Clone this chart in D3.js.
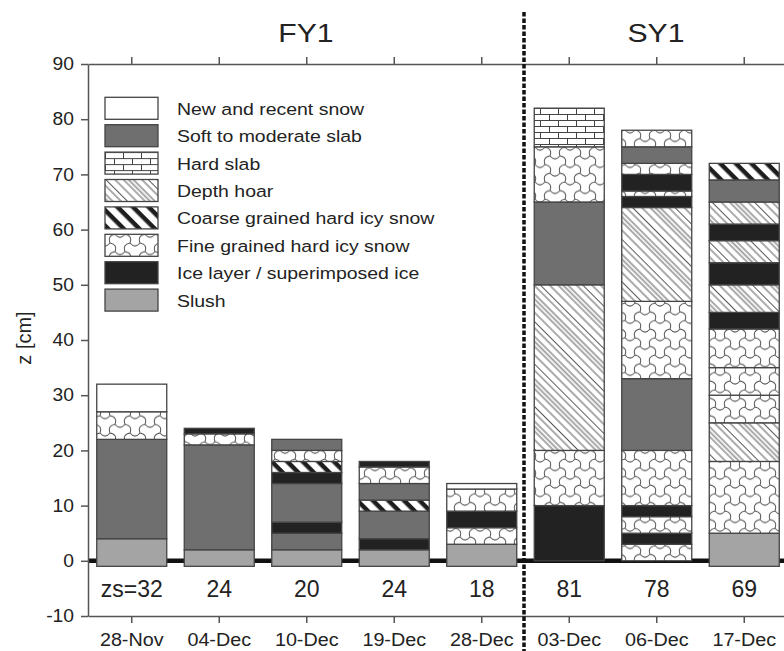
<!DOCTYPE html>
<html>
<head>
<meta charset="utf-8">
<script src="https://cdn.jsdelivr.net/npm/d3@7"></script>
<style>
  body { margin: 0; background: #fff; }
  svg { display: block; font-family: "Liberation Sans", Arial, sans-serif; }
</style>
</head>
<body>
<div id="chart"></div>
<script>
// snow pit dates (first five FY1, last three SY1)
var dates = ["28-Nov", "04-Dec", "10-Dec", "19-Dec", "28-Dec", "03-Dec", "06-Dec", "17-Dec"];
var zsLabels = ["zs=32", "24", "20", "24", "18", "81", "78", "69"];
var groupTitles = ["FY1", "SY1"];
var yTicks = [-10, 0, 10, 20, 30, 40, 50, 60, 70, 80, 90];

// layer boundaries (cm) from bottom to top, and the layer type between them
var layerBounds = [
  [-1, 4, 22, 27, 32],
  [-1, 2, 21, 23, 24],
  [-1, 2, 5, 7, 14, 16, 18, 20, 22],
  [-1, 2, 4, 9, 11, 14, 17, 18],
  [-1, 3, 6, 9, 13, 14],
  [0, 10, 20, 50, 65, 75, 82],
  [0, 3, 5, 8, 10, 20, 33, 47, 64, 66, 67, 70, 72, 75, 78],
  [-1, 5, 18, 25, 30, 35, 42, 45, 50, 54, 58, 61, 65, 69, 72]
];
var layerTypes = [
  ["slush", "soft", "fine", "new"],
  ["slush", "soft", "fine", "ice"],
  ["slush", "soft", "ice", "soft", "ice", "coarse", "fine", "soft"],
  ["slush", "ice", "soft", "coarse", "soft", "fine", "ice"],
  ["slush", "fine", "ice", "fine", "new"],
  ["ice", "fine", "hoar", "soft", "fine", "hard"],
  ["fine", "ice", "fine", "ice", "fine", "soft", "fine", "hoar", "ice", "fine", "ice", "fine", "soft", "fine"],
  ["slush", "fine", "hoar", "fine", "fine", "fine", "ice", "hoar", "ice", "hoar", "ice", "hoar", "soft", "coarse"]
];

var legendTypes = ["new", "soft", "hard", "hoar", "coarse", "fine", "ice", "slush"];
var legendNames = ["New and recent snow", "Soft to moderate slab", "Hard slab", "Depth hoar",
  "Coarse grained hard icy snow", "Fine grained hard icy snow", "Ice layer / superimposed ice", "Slush"];

var W = 784, H = 651;
var svg = d3.select("#chart").append("svg").attr("width", W).attr("height", H);
var defs = svg.append("defs");

var x = d3.scaleBand().domain(dates).range([88, 788]).paddingInner(0.2).paddingOuter(0.1);
var y = d3.scaleLinear().domain([-10, 90]).range([616, 64]);

// ---- patterns
function pattern(id, w, h, tr) {
  var p = defs.append("pattern").attr("id", id).attr("patternUnits", "userSpaceOnUse")
    .attr("width", w).attr("height", h);
  if (tr) p.attr("patternTransform", tr);
  return p;
}

var hard = pattern("p-hard", 18, 12);
hard.append("rect").attr("width", 18).attr("height", 12).attr("fill", "#fff");
hard.append("path").attr("d", "M0,0.5H18M0,6.5H18M0.5,0V6.5M9.5,6.5V12")
  .attr("stroke", "#444").attr("stroke-width", 1).attr("fill", "none");

var hoar = pattern("p-hoar", 30, 10, "rotate(-45)");
hoar.append("rect").attr("width", 30).attr("height", 10).attr("fill", "#fff");
[0.5, 7, 13, 20, 26].forEach(function(v) {
  hoar.append("line").attr("x1", v).attr("x2", v).attr("y1", 0).attr("y2", 10)
    .attr("stroke", "#444").attr("stroke-width", 0.9);
});
hoar.append("line").attr("x1", 16.5).attr("x2", 16.5).attr("y1", 0).attr("y2", 10)
  .attr("stroke", "#9a9a9a").attr("stroke-width", 1.8);

var coarse = pattern("p-coarse", 11, 11, "rotate(-45)");
coarse.append("rect").attr("width", 11).attr("height", 11).attr("fill", "#1e1e1e");
coarse.append("rect").attr("width", 6.5).attr("height", 11).attr("fill", "#fff");

// fine grained: honeycomb with alternately bulging edges (Y-shaped pavers)
var s = 10, hh = Math.sqrt(3) * s;
var fine = pattern("p-fine", 3 * s, hh);
fine.append("rect").attr("width", 3 * s).attr("height", hh).attr("fill", "#fff");
var fp = d3.path();
for (var i = -1; i <= 2; i++) {
  for (var j = -1; j <= 1; j++) {
    var cx = 1.5 * s * i, cy = hh * (j + 0.5 * (i & 1));
    for (var k = 0; k < 6; k++) {
      var a0 = k * Math.PI / 3, a1 = (k + 1) * Math.PI / 3;
      var ax = cx + s * Math.cos(a0), ay = cy + s * Math.sin(a0);
      var bx = cx + s * Math.cos(a1), by = cy + s * Math.sin(a1);
      var sg = k % 2 === 0 ? 0.6 : -0.6;
      var mx = (ax + bx) / 2 - sg * (by - ay), my = (ay + by) / 2 + sg * (bx - ax);
      fp.moveTo(ax, ay);
      fp.quadraticCurveTo(mx, my, bx, by);
    }
  }
}
fine.append("path").attr("d", fp.toString()).attr("fill", "none")
  .attr("stroke", "#555").attr("stroke-width", 1);

var fills = {
  "new": "#ffffff",
  "soft": "#6f6f6f",
  "hard": "url(#p-hard)",
  "hoar": "url(#p-hoar)",
  "coarse": "url(#p-coarse)",
  "fine": "url(#p-fine)",
  "ice": "#222222",
  "slush": "#a4a4a4"
};

function stretch(sel, k) {
  sel.each(function() {
    var t = d3.select(this);
    var tx = +t.attr("x") || 0, ty = +t.attr("y") || 0;
    t.attr("x", 0).attr("y", 0)
      .attr("transform", "translate(" + tx + "," + ty + ") scale(" + k + ",1)");
  });
}

// zero line
svg.append("line").attr("x1", 88).attr("x2", W).attr("y1", y(0)).attr("y2", y(0))
  .attr("stroke", "#111").attr("stroke-width", 4.5);

// ---- bars
var layers = [];
dates.forEach(function(d, bi) {
  layerTypes[bi].forEach(function(t, li) {
    layers.push({ date: d, lo: layerBounds[bi][li], hi: layerBounds[bi][li + 1], type: t });
  });
});

svg.append("g").selectAll("rect").data(layers).join("rect")
  .attr("x", function(d) { return x(d.date); })
  .attr("width", x.bandwidth())
  .attr("y", function(d) { return y(d.hi); })
  .attr("height", function(d) { return y(d.lo) - y(d.hi); })
  .attr("fill", function(d) { return fills[d.type]; })
  .attr("stroke", "#444")
  .attr("stroke-width", 1.3);

// ---- axes
function styleAxis(g) {
  g.selectAll(".domain").attr("stroke", "#555").attr("stroke-width", 1.5);
  g.selectAll(".tick line").attr("stroke", "#555").attr("stroke-width", 1.5);
  g.selectAll("text").attr("fill", "#222").attr("font-size", 17.5)
    .attr("font-family", "Liberation Sans, Arial, sans-serif");
}

var gl = svg.append("g").attr("transform", "translate(88,0)")
  .call(d3.axisLeft(y).tickValues(yTicks).tickSize(7).tickSizeOuter(0).tickPadding(7)
    .tickFormat(function(d) { return String(d); }));
styleAxis(gl);
stretch(gl.selectAll("text"), 1.1);

var gt = svg.append("g").attr("transform", "translate(0,64)")
  .call(d3.axisTop(x).tickSize(7).tickSizeOuter(0).tickFormat(""));
styleAxis(gt);

var gb = svg.append("g").attr("transform", "translate(0,616)")
  .call(d3.axisBottom(x).tickSize(7).tickSizeOuter(0).tickPadding(11));
styleAxis(gb);
stretch(gb.selectAll("text"), 1.13);

// snow depth labels
svg.append("g").selectAll("text").data(dates).join("text")
  .attr("x", function(d) { return x(d) + x.bandwidth() / 2; })
  .attr("y", 597)
  .attr("text-anchor", "middle")
  .attr("font-size", 23)
  .attr("fill", "#222")
  .text(function(d, i) { return zsLabels[i]; });

// y label
svg.append("text")
  .attr("transform", "translate(31,338) rotate(-90)")
  .attr("text-anchor", "middle")
  .attr("font-size", 20)
  .attr("fill", "#222")
  .text("z [cm]");

// group titles
var split = 524;
svg.append("g").selectAll("text").data(groupTitles).join("text")
  .attr("x", function(d, i) { return i === 0 ? (88 + split) / 2 : (split + 788) / 2; })
  .attr("y", 42)
  .attr("text-anchor", "middle")
  .attr("font-size", 26)
  .attr("fill", "#222")
  .text(function(d) { return d; })
  .call(stretch, 1.16);

// FY / SY separator
svg.append("line").attr("x1", split).attr("x2", split).attr("y1", 12).attr("y2", H)
  .attr("stroke", "#111").attr("stroke-width", 3.5).attr("stroke-dasharray", "4.5,2");

// ---- legend
var lg = svg.append("g").selectAll("g").data(legendTypes).join("g")
  .attr("transform", function(d, i) { return "translate(105," + (97.3 + i * 27.4) + ")"; });
lg.append("rect").attr("width", 53).attr("height", 22)
  .attr("fill", function(d) { return fills[d]; })
  .attr("stroke", "#444").attr("stroke-width", 1.3);
lg.append("text").attr("x", 72).attr("y", 17.5)
  .attr("font-size", 16.5).attr("fill", "#222")
  .text(function(d, i) { return legendNames[i]; })
  .call(stretch, 1.18);
</script>
</body>
</html>
